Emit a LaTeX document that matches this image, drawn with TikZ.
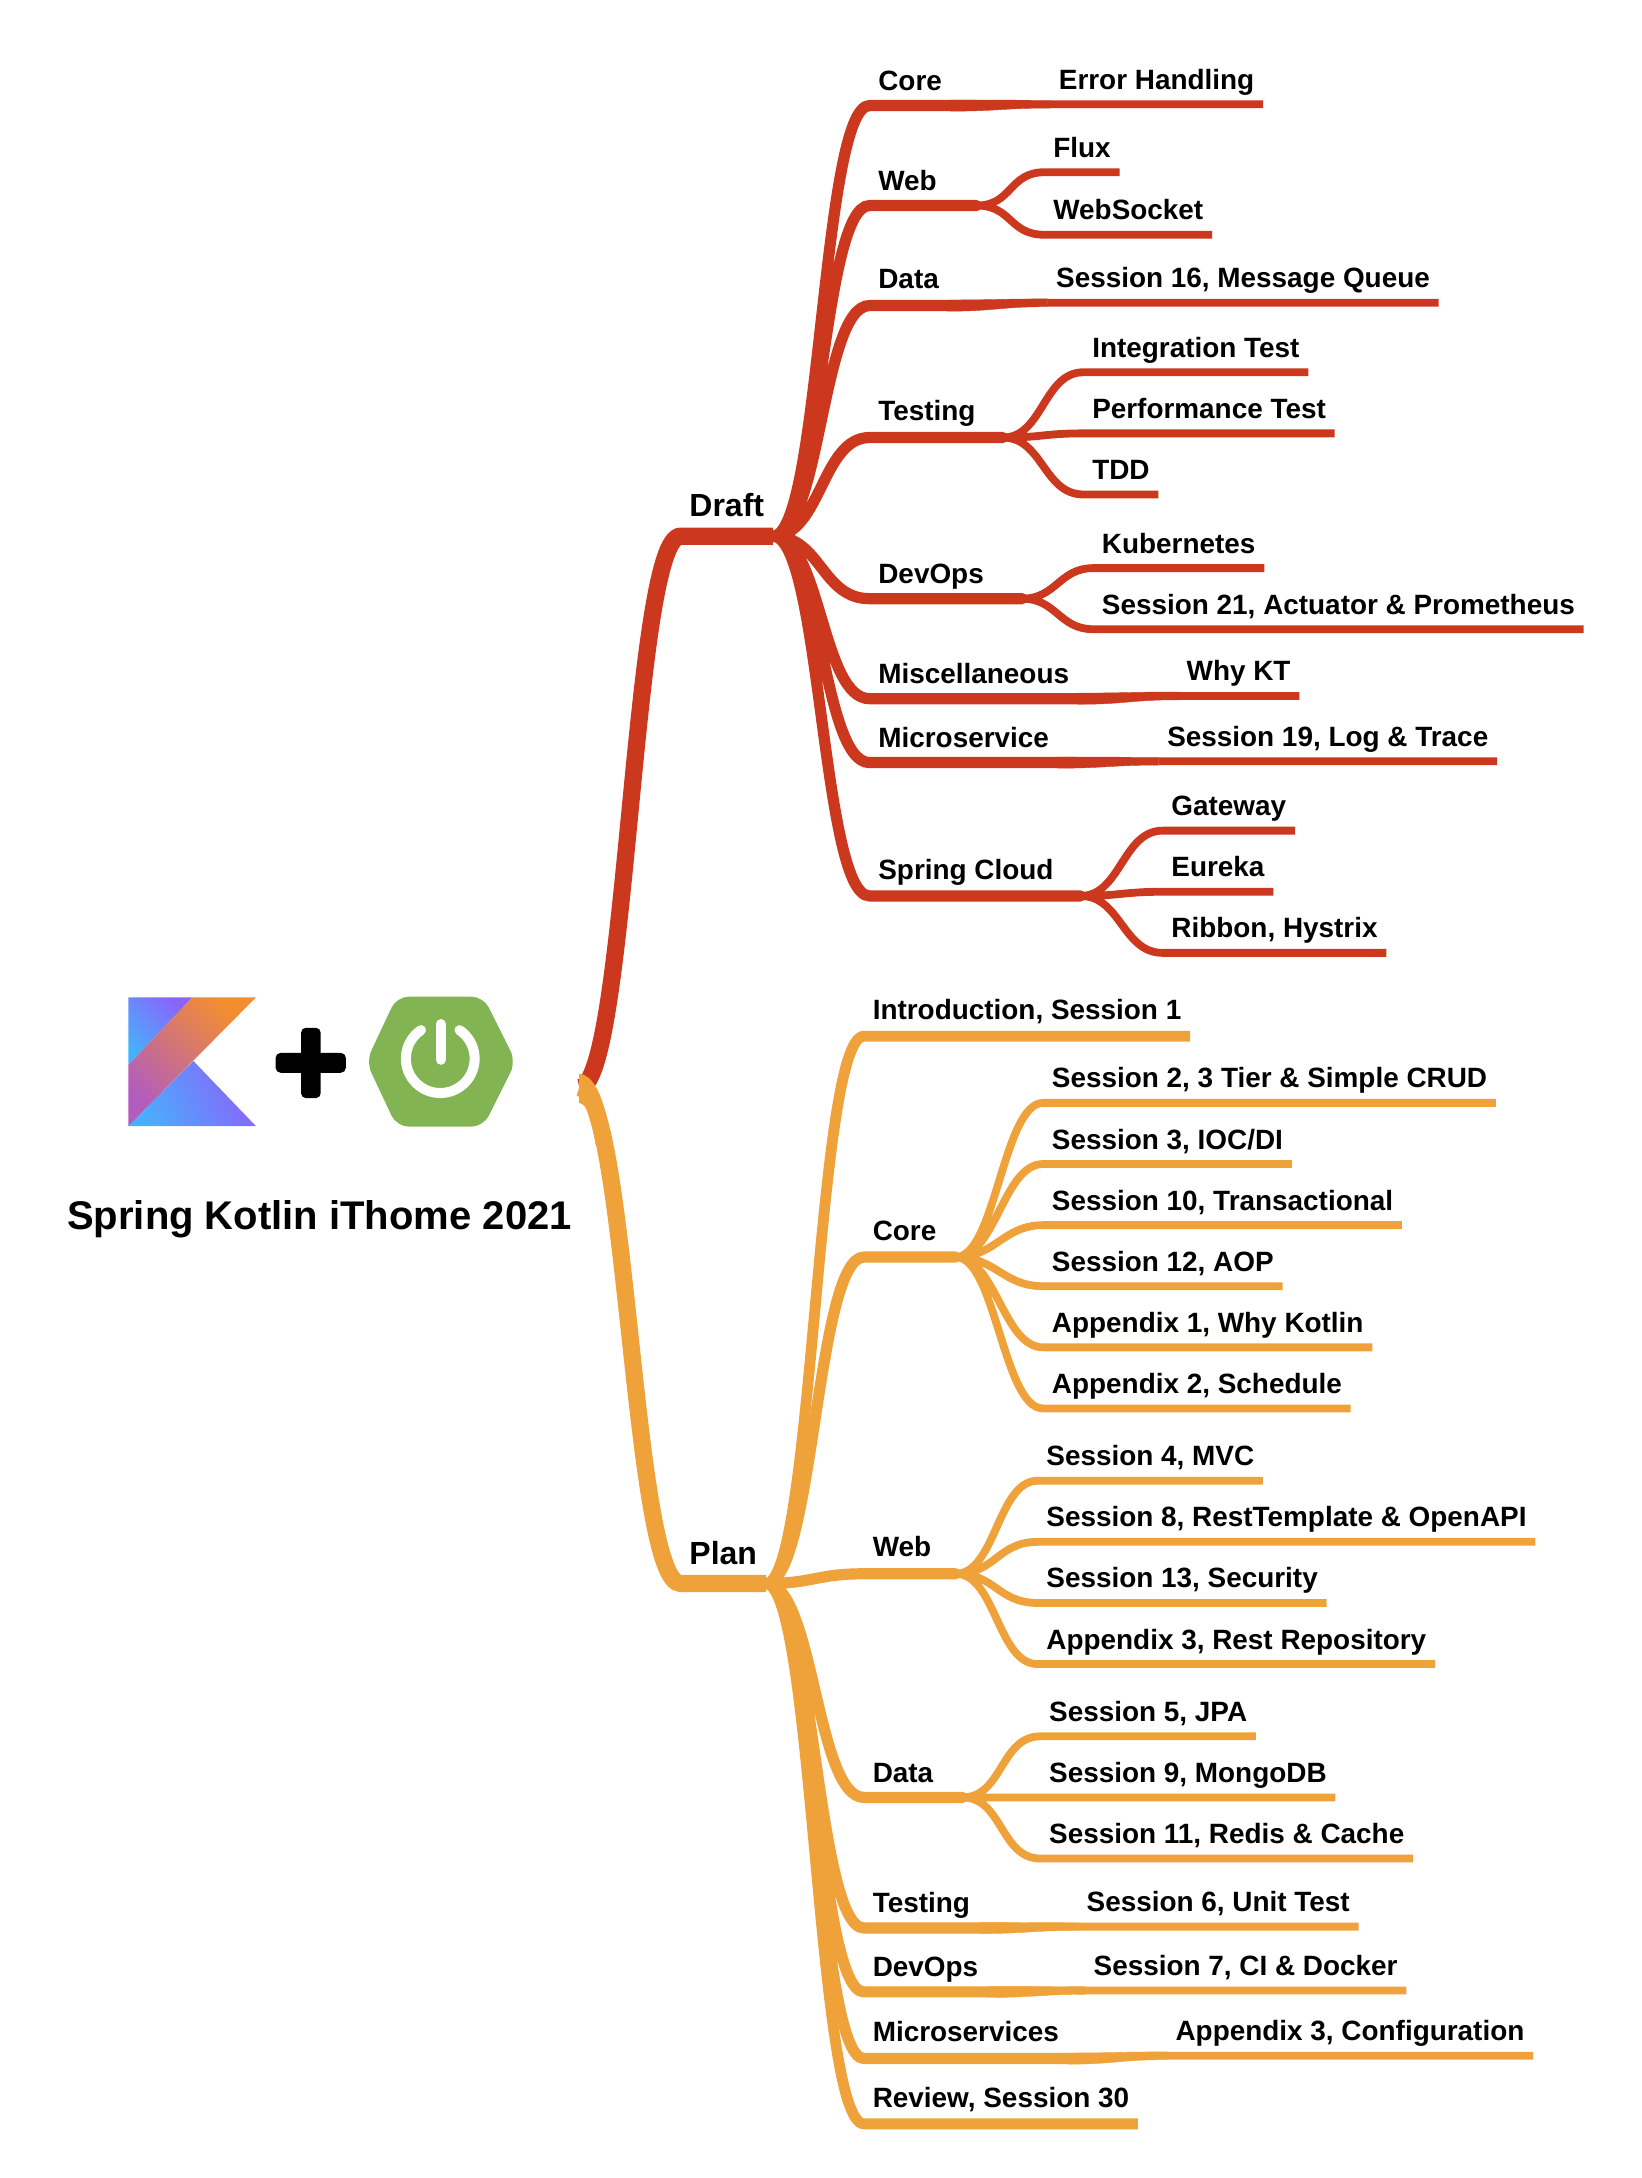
\documentclass[tikz,border=0pt]{standalone}
\usepackage{fontspec}
\setmainfont{Liberation Sans}
\usetikzlibrary{calc, positioning}

\definecolor{draftred}{RGB}{204,56,30}
\definecolor{planorange}{RGB}{239,162,57}
\definecolor{springgreen}{RGB}{130,180,84}
\definecolor{kblue}{RGB}{72,175,252}
\definecolor{kpurple}{RGB}{139,98,252}
\definecolor{korange}{RGB}{243,142,48}
\definecolor{kpink}{RGB}{178,92,190}

% limb thins down to twig between two labels
\newcommand{\easeline}[3]{\path [fill=#3, draw=#3, line width=0.2pt]
  ($(#1)+(0pt,2.8pt)$) .. controls ($(#1)+(24pt,2.8pt)$) and ($(#2)+(-24pt,1.95pt)$) .. ($(#2)+(0pt,1.95pt)$)
  -- ($(#2)+(0pt,-1.95pt)$) .. controls ($(#2)+(-24pt,-1.95pt)$) and ($(#1)+(24pt,-2.8pt)$) .. ($(#1)+(0pt,-2.8pt)$) -- cycle;}

\begin{document}
\begin{tikzpicture}[
    x=0.6945pt, y=-0.6945pt,
      sway/.style = {out=0, in=180, out distance=#1, in distance=#1},
      tag/.style = {anchor=south west, inner xsep=4.2pt, inner ysep=0pt, font=\bfseries\fontsize{13.95}{16}\selectfont,
                    text height=10pt, text depth=7.3pt},
     ltag/.style = {tag, text depth=8.2pt},
   bigtag/.style = {tag, font=\bfseries\fontsize{16}{18}\selectfont, text depth=9.5pt},
    trunk/.style = {line width=8.6pt},
     limb/.style = {line width=5.6pt, line cap=round},
 limbbutt/.style = {line width=5.4pt},
     twig/.style = {line width=3.9pt},
    redpen/.style = {draw=draftred},
   orangepen/.style = {draw=planorange}
  ]
  \useasboundingbox (0,0) rectangle (1182.1,1568);

  % logos
  \shade [left color=kpurple, right color=kblue, shading angle=-45] (92.4,718) -- (138.5,718) -- (92.4,766.8) -- cycle;
  \shade [left color=korange, right color=kpink, shading angle=-45] (138.5,718) -- (184.3,718) -- (92.4,810.8) -- (92.4,766.8) -- cycle;
  \shade [left color=kpurple, right color=kblue, shading angle=-65] (92.4,810.8) -- (139.2,763.8) -- (184.3,810.8) -- cycle;
  \fill [black, rounded corners=2.5pt] (216.7,739.9) rectangle (230.9,790.6);
  \fill [black, rounded corners=2.5pt] (198.4,758) rectangle (249,772.3);
  \fill [springgreen, rounded corners=6pt] (285.6,717.5) -- (348,717.5) -- (371.4,764.3) -- (348,811.1) -- (285.6,811.1) -- (263.6,764.3) -- cycle;
  \draw [white, line width=5pt, line cap=round] (317.3,737.2) -- (317.3,763);
  \draw [white, line width=5pt, line cap=round] (303.1,741.6) arc [start angle=124, end angle=416, radius=17.2pt];
  \node [anchor=base, inner sep=0pt, font=\bfseries\fontsize{20}{22}\selectfont] (title) at (230,885) {Spring Kotlin iThome 2021};

  \coordinate (root) at (417,783);

  % draft side
  \node [bigtag] (draft) at (490,386) {Draft};
  \node [tag]  (dcore)   at (626,76)  {Core};
  \node [tag]  (derror)  at (756,75)  {Error Handling};
  \node [tag]  (dweb)    at (626,148) {Web};
  \node [tag]  (dflux)   at (752,124) {Flux};
  \node [tag]  (dsocket) at (752,169) {WebSocket};
  \node [ltag] (ddata)   at (626,220) {Data};
  \node [tag]  (dqueue)  at (754,218) {Session 16, Message Queue};
  \node [ltag] (dtest)   at (626,315) {Testing};
  \node [tag]  (dinteg)  at (780,268) {Integration Test};
  \node [tag]  (dperf)   at (780,312) {Performance Test};
  \node [tag]  (dtdd)    at (780,356) {TDD};
  \node [tag]  (dops)    at (626,431) {DevOps};
  \node [tag]  (dkube)   at (787,409) {Kubernetes};
  \node [tag]  (dprom)   at (787,453) {Session 21, Actuator \& Prometheus};
  \node [tag]  (dmisc)   at (626,503) {Miscellaneous};
  \node [tag]  (dwhy)    at (848,501) {Why KT};
  \node [tag]  (dmicro)  at (626,549) {Microservice};
  \node [tag]  (dtrace)  at (834,548) {Session 19, Log \& Trace};
  \node [ltag] (dcloud)  at (626,645) {Spring Cloud};
  \node [tag]  (dgate)   at (837,598) {Gateway};
  \node [tag]  (deureka) at (837,642) {Eureka};
  \node [tag]  (dribbon) at (837,686) {Ribbon, Hystrix};
  \coordinate (dwebhub)   at (703,148);
  \coordinate (dtesthub)  at (722,315);
  \coordinate (dopshub)   at (736,431);
  \coordinate (dcloudhub) at (778,645);

  % plan side
  \node [bigtag] (plan) at (490,1140) {Plan};
  \node [ltag] (pintro)  at (622,746)  {Introduction, Session 1};
  \node [ltag] (pcore)   at (622,905)  {Core};
  \node [tag]  (pcrud)   at (751,794)  {Session 2, 3 Tier \& Simple CRUD};
  \node [tag]  (pioc)    at (751,838)  {Session 3, IOC/DI};
  \node [tag]  (ptrans)  at (751,882)  {Session 10, Transactional};
  \node [tag]  (paop)    at (751,926)  {Session 12, AOP};
  \node [tag]  (pwhy)    at (751,970)  {Appendix 1, Why Kotlin};
  \node [tag]  (psched)  at (751,1014) {Appendix 2, Schedule};
  \node [ltag] (pweb)    at (622,1133) {Web};
  \node [tag]  (pmvc)    at (747,1066) {Session 4, MVC};
  \node [tag]  (prest)   at (747,1110) {Session 8, RestTemplate \& OpenAPI};
  \node [tag]  (psecu)   at (747,1154) {Session 13, Security};
  \node [tag]  (prepo)   at (747,1198) {Appendix 3, Rest Repository};
  \node [tag]  (pdata)   at (622,1294) {Data};
  \node [tag]  (pjpa)    at (749,1250) {Session 5, JPA};
  \node [tag]  (pmongo)  at (749,1294) {Session 9, MongoDB};
  \node [tag]  (predis)  at (749,1338) {Session 11, Redis \& Cache};
  \node [tag]  (ptest)   at (622,1388) {Testing};
  \node [tag]  (punit)   at (776,1387) {Session 6, Unit Test};
  \node [tag]  (pops)    at (622,1434) {DevOps};
  \node [tag]  (pdock)   at (781,1433) {Session 7, CI \& Docker};
  \node [ltag] (pmicro)  at (622,1482) {Microservices};
  \node [tag]  (pconf)   at (840,1480) {Appendix 3, Configuration};
  \node [ltag] (preview) at (622,1529) {Review, Session 30};
  \coordinate (pcorehub) at (688,905);
  \coordinate (pwebhub)  at (688,1133);
  \coordinate (pdatahub) at (693,1294);

  %----
  \draw [redpen, limb]
    (draft.south east) to[sway=24pt] (dcore.south west) -- (dcore.south east)
    (draft.south east) to[sway=24pt] (dweb.south west) -- (dwebhub)
    (draft.south east) to[sway=24pt] (ddata.south west) -- (ddata.south east)
    (draft.south east) to[sway=24pt] (dtest.south west) -- (dtesthub)
    (draft.south east) to[sway=24pt] (dops.south west) -- (dopshub)
    (draft.south east) to[sway=24pt] (dmisc.south west) -- (dmisc.south east)
    (draft.south east) to[sway=24pt] (dmicro.south west) -- (dmicro.south east)
    (draft.south east) to[sway=24pt] (dcloud.south west) -- (dcloudhub);
  \easeline{dcore.south east}{derror.south west}{draftred}
  \easeline{ddata.south east}{dqueue.south west}{draftred}
  \easeline{dmisc.south east}{dwhy.south west}{draftred}
  \easeline{dmicro.south east}{dtrace.south west}{draftred}
  \draw [redpen, twig]
    (derror.south west) -- (derror.south east)
    (dwebhub) to[sway=18pt] (dflux.south west) -- (dflux.south east)
    (dwebhub) to[sway=18pt] (dsocket.south west) -- (dsocket.south east)
    (dqueue.south west) -- (dqueue.south east)
    (dtesthub) to[sway=20pt] (dinteg.south west) -- (dinteg.south east)
    (dtesthub) to[sway=20pt] (dperf.south west) -- (dperf.south east)
    (dtesthub) to[sway=20pt] (dtdd.south west) -- (dtdd.south east)
    (dopshub) to[sway=17pt] (dkube.south west) -- (dkube.south east)
    (dopshub) to[sway=17pt] (dprom.south west) -- (dprom.south east)
    (dwhy.south west) -- (dwhy.south east)
    (dtrace.south west) -- (dtrace.south east)
    (dcloudhub) to[sway=20pt] (dgate.south west) -- (dgate.south east)
    (dcloudhub) to[sway=20pt] (deureka.south west) -- (deureka.south east)
    (dcloudhub) to[sway=20pt] (dribbon.south west) -- (dribbon.south east);
  \draw [redpen, trunk] (root) to[sway=24pt] (draft.south west) -- (draft.south east);

  %----
  \draw [orangepen, limb]
    (plan.south east) to[sway=24pt] (pcore.south west) -- (pcorehub)
    (plan.south east) to[sway=24pt] (pweb.south west) -- (pwebhub)
    (plan.south east) to[sway=24pt] (pdata.south west) -- (pdatahub)
    (plan.south east) to[sway=24pt] (ptest.south west) -- (ptest.south east)
    (plan.south east) to[sway=24pt] (pops.south west) -- (pops.south east)
    (plan.south east) to[sway=24pt] (pmicro.south west) -- (pmicro.south east);
  \draw [orangepen, limbbutt]
    (plan.south east) to[sway=24pt] (pintro.south west) -- (pintro.south east)
    (plan.south east) to[sway=24pt] (preview.south west) -- (preview.south east);
  \easeline{ptest.south east}{punit.south west}{planorange}
  \easeline{pops.south east}{pdock.south west}{planorange}
  \easeline{pmicro.south east}{pconf.south west}{planorange}
  \draw [orangepen, twig]
    (pcorehub) to[sway=20pt] (pcrud.south west) -- (pcrud.south east)
    (pcorehub) to[sway=20pt] (pioc.south west) -- (pioc.south east)
    (pcorehub) to[sway=20pt] (ptrans.south west) -- (ptrans.south east)
    (pcorehub) to[sway=20pt] (paop.south west) -- (paop.south east)
    (pcorehub) to[sway=20pt] (pwhy.south west) -- (pwhy.south east)
    (pcorehub) to[sway=20pt] (psched.south west) -- (psched.south east)
    (pwebhub) to[sway=20pt] (pmvc.south west) -- (pmvc.south east)
    (pwebhub) to[sway=20pt] (prest.south west) -- (prest.south east)
    (pwebhub) to[sway=20pt] (psecu.south west) -- (psecu.south east)
    (pwebhub) to[sway=20pt] (prepo.south west) -- (prepo.south east)
    (pdatahub) to[sway=20pt] (pjpa.south west) -- (pjpa.south east)
    (pdatahub) to[sway=20pt] (pmongo.south west) -- (pmongo.south east)
    (pdatahub) to[sway=20pt] (predis.south west) -- (predis.south east)
    (punit.south west) -- (punit.south east)
    (pdock.south west) -- (pdock.south east)
    (pconf.south west) -- (pconf.south east);
  \draw [orangepen, trunk] (root) to[sway=24pt] (plan.south west) -- (plan.south east);
  \fill [planorange] (417,773) .. controls (427,774) and (433,788) .. (436.6,804) -- (429,825) .. controls (426,806) and (423,795) .. (417,794) -- cycle;
\end{tikzpicture}
\end{document}
